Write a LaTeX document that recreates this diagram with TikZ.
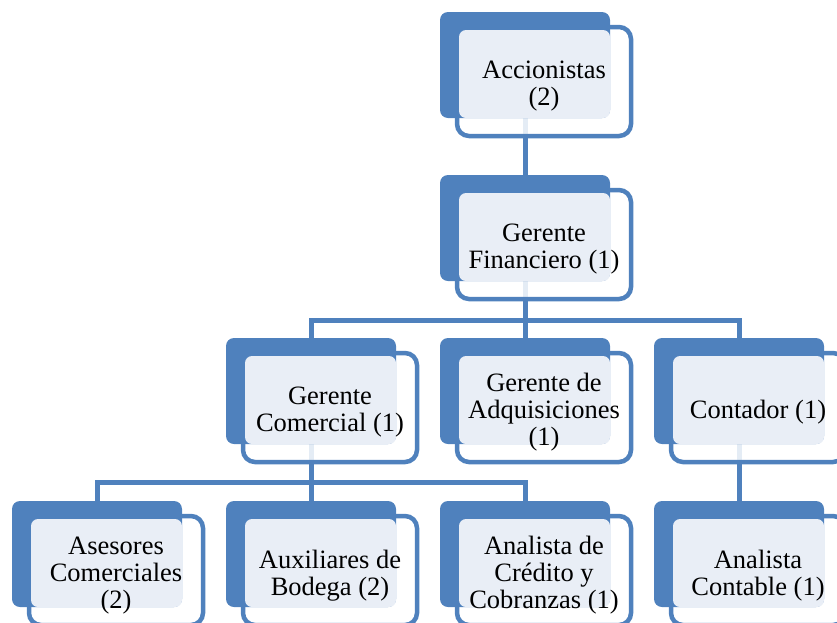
\documentclass[tikz,border=0pt]{standalone}
\usepackage{fontspec}
\setmainfont{Liberation Serif}
\usetikzlibrary{positioning}

\definecolor{orgblue}{RGB}{79,129,189}
\definecolor{orgtint}{RGB}{233,238,246}

\pgfdeclarelayer{lines}
\pgfdeclarelayer{frames}
\pgfdeclarelayer{backs}
\pgfdeclarelayer{tints}
\pgfsetlayers{lines,frames,backs,tints,main}

\tikzset{
  card/.style={minimum width=174pt, minimum height=109pt, inner sep=2pt, outer sep=0pt,
    align=center, font=\fontsize{26.5}{27}\selectfont},
  cardframe/.style={draw=orgblue, line width=4.5pt, fill=white, fill opacity=0.85, rounded corners=12pt},
  cardback/.style={fill=orgblue, rounded corners=8pt},
  cardtint/.style={fill=orgtint, rounded corners=7pt},
  link/.style={draw=orgblue, line width=5pt},
}

\begin{document}
\begin{tikzpicture}[node distance=54pt and 40pt]
  \useasboundingbox (0,0) rectangle (837pt,-622pt);

  \node[card] (acc) at (544pt,-86.5pt) {Accionistas\\(2)};
  \node[card, below=of acc] (gf) {Gerente\\Financiero (1)};
  \node[card, below left=of gf] (gc) {Gerente\\Comercial (1)};
  \node[card, below=of gf] (ga) {Gerente de\\Adquisiciones\\(1)};
  \node[card, below right=of gf] (cont) {Contador (1)};
  \node[card, below=of gc] (aux) {Auxiliares de\\Bodega (2)};
  \node[card, left=of aux] (ase) {Asesores\\Comerciales\\(2)};
  \node[card, right=of aux] (acr) {Analista de\\Crédito y\\Cobranzas (1)};
  \node[card, below=of cont] (acon) {Analista\\Contable (1)};

  % frame, blue back and tint behind every card
  \foreach \n in {acc,gf,gc,ga,cont,ase,aux,acr,acon}{
    \coordinate (\n-up) at ([shift={(-19pt,74.5pt)}]\n.center);
    \coordinate (\n-dn) at ([shift={(-19pt,-31.5pt)}]\n.center);
    \begin{pgfonlayer}{frames}
      \path[cardframe] ([yshift=5pt]\n.north west) rectangle ([yshift=5pt]\n.south east);
    \end{pgfonlayer}
    \begin{pgfonlayer}{backs}
      \path[cardback] ([shift={(-104pt,74.5pt)}]\n.center) rectangle ([shift={(66pt,-31.5pt)}]\n.center);
    \end{pgfonlayer}
    \begin{pgfonlayer}{tints}
      \path[cardtint] ([shift={(-85pt,56.5pt)}]\n.center) rectangle ([shift={(66pt,-31.5pt)}]\n.center);
    \end{pgfonlayer}
  }

  % connectors
  \begin{pgfonlayer}{lines}
    \draw[link] (acc-dn) -- (gf-up);
    \draw[link] (gf-dn) -- (ga-up);
    \draw[link] (gc-up) -- ++(0,18pt) -| (cont-up);
    \draw[link] (gc-dn) -- (aux-up);
    \draw[link] (ase-up) -- ++(0,18.5pt) -| (acr-up);
    \draw[link] (cont-dn) -- (acon-up);
  \end{pgfonlayer}
\end{tikzpicture}
\end{document}
